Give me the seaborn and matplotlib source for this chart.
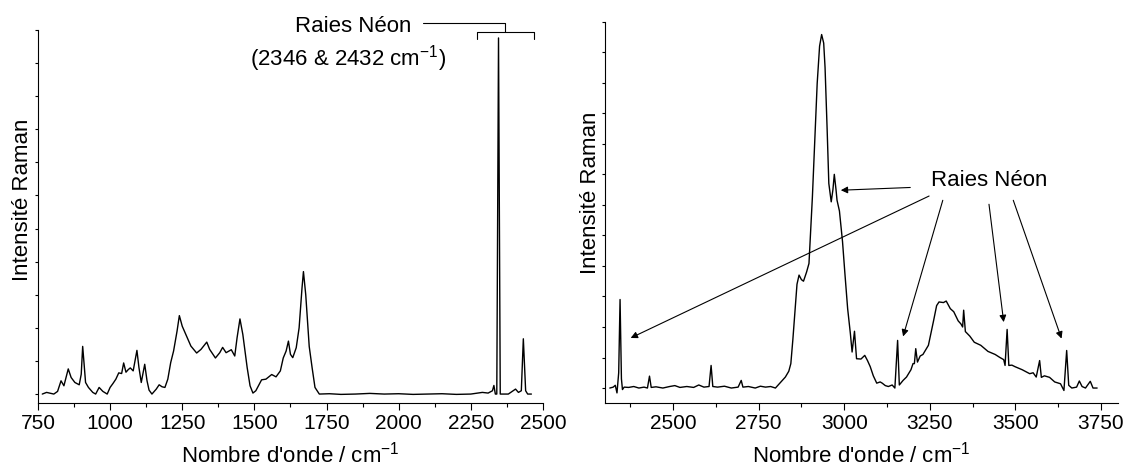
import numpy as np
import pandas as pd
import seaborn as sns
import matplotlib.pyplot as plt
from matplotlib.ticker import MultipleLocator

# Spectre 1 : region 750 - 2500 cm-1
left_wn = [765, 780, 795, 805, 818, 830, 840, 855, 865, 878, 893, 900, 905, 910, 915,
           925, 940, 950, 962, 975, 990, 1000, 1010, 1020, 1030, 1040, 1047, 1055,
           1063, 1070, 1080, 1093, 1100, 1108, 1120, 1128, 1135, 1145, 1160, 1170,
           1180, 1190, 1200, 1210, 1220, 1232, 1240, 1250, 1265, 1280, 1300, 1315,
           1335, 1345, 1365, 1380, 1390, 1402, 1412, 1420, 1432, 1440, 1450, 1460,
           1475, 1485, 1495, 1505, 1525, 1540, 1560, 1575, 1590, 1600, 1610, 1618,
           1625, 1633, 1645, 1655, 1665, 1670, 1678, 1690, 1700, 1710, 1725, 1760,
           1800, 1850, 1900, 1950, 2000, 2050, 2100, 2150, 2200, 2250, 2290, 2310,
           2325, 2330, 2335, 2340, 2346, 2352, 2380, 2405, 2415, 2425, 2432, 2440,
           2447, 2460]
left_int = [0.0, 0.05, 0.02, 0.0, 0.08, 0.40, 0.25, 0.76, 0.5, 0.35, 0.28, 0.6, 1.44,
            0.9, 0.35, 0.2, 0.05, 0.0, 0.2, 0.08, 0.0, 0.2, 0.32, 0.45, 0.64, 0.62,
            0.94, 0.66, 0.74, 0.79, 0.7, 1.32, 0.8, 0.35, 0.9, 0.4, 0.12, 0.0, 0.15,
            0.28, 0.22, 0.2, 0.45, 0.95, 1.3, 1.9, 2.37, 2.05, 1.75, 1.45, 1.24, 1.35,
            1.57, 1.35, 1.09, 1.25, 1.41, 1.25, 1.3, 1.34, 1.15, 1.7, 2.27, 1.8, 0.8,
            0.25, 0.03, 0.1, 0.43, 0.45, 0.59, 0.52, 0.7, 1.09, 1.3, 1.6, 1.2, 1.1,
            1.4, 2.0, 3.2, 3.7, 3.0, 1.44, 0.8, 0.2, 0.0, 0.01, -0.01, 0.0, 0.02, 0.0,
            0.01, -0.01, 0.0, 0.01, -0.01, 0.0, 0.05, 0.03, 0.1, 0.26, 0.0, 0.0, 10.76,
            0.0, 0.0, 0.15, 0.05, 0.1, 1.67, 0.1, 0.0, 0.0]

# Spectre 2 : region 2300 - 3800 cm-1
right_wn = [2315, 2325, 2331, 2336, 2341, 2345, 2349, 2352, 2357, 2370, 2385, 2400,
            2415, 2425, 2431, 2436, 2450, 2470, 2490, 2505, 2520, 2540, 2560, 2575,
            2590, 2605, 2611, 2616, 2630, 2650, 2670, 2690, 2699, 2704, 2720, 2740,
            2755, 2770, 2785, 2799, 2815, 2828, 2838, 2844, 2850, 2854, 2862, 2868,
            2875, 2881, 2890, 2897, 2907, 2921, 2928, 2934, 2940, 2944, 2950, 2955,
            2962, 2967, 2971, 2976, 2979, 2986, 2995, 3002, 3010, 3018, 3023, 3030,
            3036, 3049, 3060, 3068, 3076, 3085, 3095, 3105, 3111, 3120, 3129, 3140,
            3148, 3156, 3161, 3172, 3182, 3195, 3201, 3205, 3209, 3214, 3222, 3230,
            3246, 3261, 3270, 3277, 3290, 3298, 3310, 3320, 3333, 3341, 3346, 3349,
            3354, 3360, 3367, 3380, 3399, 3420, 3441, 3455, 3466, 3470, 3476, 3481,
            3490, 3499, 3520, 3542, 3552, 3561, 3571, 3576, 3585, 3600, 3615, 3632,
            3642, 3650, 3656, 3665, 3679, 3687, 3695, 3705, 3719, 3727, 3739]
right_int = [0.0, 0.03, 0.09, -0.16, 0.5, 2.9, 0.3, -0.05, 0.03, 0.02, 0.05, 0.0,
             0.03, 0.0, 0.39, 0.02, 0.04, 0.0, 0.05, 0.08, 0.02, 0.05, 0.02, 0.1,
             0.03, 0.05, 0.74, 0.05, 0.03, 0.06, 0.0, 0.03, 0.25, 0.03, 0.05, 0.0,
             0.06, 0.03, 0.05, 0.0, 0.2, 0.36, 0.55, 0.8, 1.6, 2.2, 3.4, 3.7, 3.55,
             3.5, 3.8, 4.08, 6.26, 9.98, 11.2, 11.58, 11.3, 10.5, 8.5, 6.7, 6.1, 6.5,
             7.0, 6.5, 6.15, 5.8, 4.8, 3.75, 2.6, 1.78, 1.18, 1.86, 0.96, 0.95, 1.07,
             0.9, 0.7, 0.4, 0.16, 0.2, 0.16, 0.08, 0.05, 0.1, 0.0, 1.56, 0.1, 0.25,
             0.36, 0.6, 0.8, 0.8, 1.29, 0.85, 1.05, 1.1, 1.4, 2.2, 2.7, 2.82, 2.8,
             2.85, 2.6, 2.5, 2.2, 2.1, 2.0, 2.55, 1.85, 1.78, 1.7, 1.5, 1.4, 1.2, 1.1,
             1.0, 0.93, 0.74, 1.92, 0.74, 0.75, 0.7, 0.6, 0.47, 0.5, 0.36, 0.9, 0.35,
             0.4, 0.35, 0.2, 0.14, -0.08, 1.23, 0.09, 0.0, 0.03, 0.23, 0.05, 0.0,
             0.22, 0.0, 0.0]

left_ticks = [750, 1000, 1250, 1500, 1750, 2000, 2250, 2500]
right_ticks = [2500, 2750, 3000, 3250, 3500, 3750]

sns.set_theme(style="ticks")
plt.rcParams['font.family'] = ['Liberation Sans', 'DejaVu Sans']
plt.rcParams['mathtext.fontset'] = 'custom'
plt.rcParams['mathtext.rm'] = 'Liberation Sans'
plt.rcParams['mathtext.default'] = 'regular'
plt.rcParams['text.color'] = 'black'
plt.rcParams['axes.labelcolor'] = 'black'
plt.rcParams['xtick.color'] = 'black'
plt.rcParams['ytick.color'] = 'black'

fig = plt.figure(figsize=(11.26, 4.68), dpi=100)
ax1 = fig.add_axes([0.0337, 0.1389, 0.4485, 0.797])
ax2 = fig.add_axes([0.537, 0.1389, 0.4559, 0.8147])

df1 = pd.DataFrame({'wn': left_wn, 'I': left_int})
df2 = pd.DataFrame({'wn': right_wn, 'I': right_int})
sns.lineplot(data=df1, x='wn', y='I', ax=ax1, color='black', lw=1.0,
             sort=False, estimator=None)
sns.lineplot(data=df2, x='wn', y='I', ax=ax2, color='black', lw=1.0,
             sort=False, estimator=None)

xlab = "Nombre d'onde / cm$^{-1}$"
panels = [(ax1, (750, 2500), left_ticks, 11.0, -0.27, (-0.010, 0.544)),
          (ax2, (2300, 3800), right_ticks, 12.0, -0.49, (-0.008, 0.551))]
for ax, lim, ticks, ytop, ybot, ylab_pos in panels:
    ax.set_xlim(*lim)
    ax.set_ylim(ybot, ytop)
    ax.set_xticks(ticks)
    ax.xaxis.set_minor_locator(MultipleLocator(125))
    ax.set_yticks(range(0, int(ytop) + 1))
    ax.set_yticklabels([])
    ax.tick_params(axis='x', which='major', direction='out', length=5, width=0.8,
                   labelsize=15, pad=3, color='black', labelcolor='black')
    ax.tick_params(axis='x', which='minor', direction='out', length=3, width=0.8,
                   color='black')
    ax.tick_params(axis='y', which='major', direction='out', length=2.5, width=0.8,
                   color='black')
    for s in ['left', 'bottom']:
        ax.spines[s].set_linewidth(0.8)
        ax.spines[s].set_color('black')
    sns.despine(ax=ax)
    ax.set_xlabel(xlab, fontsize=16, labelpad=6, color='black')
    ax.set_ylabel('Intensité Raman', fontsize=16, color='black')
    ax.yaxis.set_label_coords(*ylab_pos)

# annotation du spectre de gauche
ax1.text(2045, 11.12, 'Raies Néon', fontsize=16, ha='right', va='center')
ax1.text(1823, 10.14, '(2346 & 2432 cm$^{-1}$)', fontsize=16, ha='center', va='center')
ax1.plot([2083, 2369, 2369], [11.22, 11.22, 10.95], color='black', lw=0.8,
         clip_on=False)
ax1.plot([2270, 2270, 2469, 2469], [10.72, 10.95, 10.95, 10.72], color='black',
         lw=0.8, clip_on=False)

# annotation du spectre de droite
ax2.text(3425, 6.81, 'Raies Néon', fontsize=16, ha='center', va='center')
arrows = [((3193, 6.57), (2990, 6.48)),
          ((3248, 6.29), (2376, 1.64)),
          ((3288, 6.15), (3172, 1.69)),
          ((3423, 6.02), (3466, 2.16)),
          ((3494, 6.15), (3635, 1.62))]
for start, end in arrows:
    ax2.annotate('', xy=end, xytext=start,
                 arrowprops=dict(arrowstyle='-|>', color='black', lw=0.8,
                                 mutation_scale=10, shrinkA=0, shrinkB=0))

plt.savefig('out.png', dpi=100)
